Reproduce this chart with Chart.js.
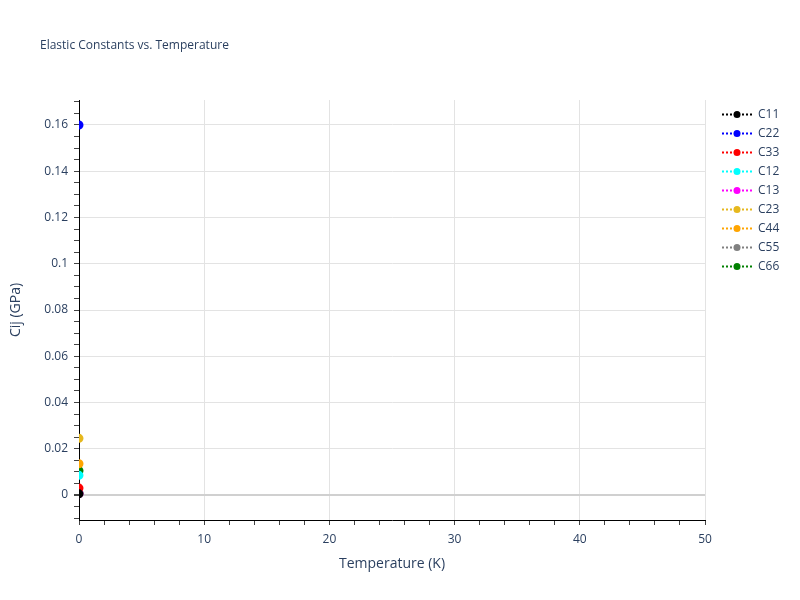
<!DOCTYPE html>
<html>
<head>
<meta charset="utf-8">
<script src="https://cdn.jsdelivr.net/npm/chart.js@4.4.1/dist/chart.umd.min.js"></script>
<style>
  html, body { margin: 0; padding: 0; background: #fff; }
  #wrap { width: 800px; height: 600px; }
</style>
</head>
<body>
<div id="wrap"><canvas id="c"></canvas></div>
<script>
// series names, colours and values (one point each, at T = 0 K)
var names = ['C11', 'C22', 'C33', 'C12', 'C13', 'C23', 'C44', 'C55', 'C66'];
var colors = ['black', 'blue', 'red', 'cyan', 'magenta', '#e6b81e', 'orange', 'grey', 'green'];
var temps = [0];
var c11 = [0.0005];
var c22 = [0.16];
var c33 = [0.003];
var c12 = [0.0085];
var c13 = [0.0006];
var c23 = [0.0245];
var c44 = [0.0135];
var c55 = [0.001];
var c66 = [0.0105];
var allValues = [c11, c22, c33, c12, c13, c23, c44, c55, c66];

var xTicks = [0, 10, 20, 30, 40, 50];
var yTicks = [0, 0.02, 0.04, 0.06, 0.08, 0.1, 0.12, 0.14, 0.16];

var FONT = '"Open Sans", "Liberation Sans", sans-serif';
var TXT = '#2a3f5f';

var datasets = [];
for (var i = 0; i < names.length; i++) {
  datasets.push({
    label: names[i],
    data: allValues[i].map(function (v, j) { return {x: temps[j], y: v}; }),
    borderColor: colors[i],
    backgroundColor: colors[i],
    borderDash: [2, 2],
    borderWidth: 2,
    pointRadius: 3.5,
    pointHoverRadius: 3.5,
    clip: 0
  });
}

function isMajorY(v) {
  return yTicks.some(function (t) { return Math.abs(t - v) < 1e-9; });
}
function isMajorX(v) {
  return xTicks.indexOf(v) >= 0;
}

// title + legend drawn in the plugin so they sit where the reference has them
var decor = {
  id: 'decor',
  afterDraw: function (chart) {
    var ctx = chart.ctx;
    ctx.save();
    ctx.fillStyle = TXT;
    ctx.font = '12px ' + FONT;
    ctx.textBaseline = 'middle';
    ctx.textAlign = 'left';
    ctx.fillText('Elastic Constants vs. Temperature', 40, 46);

    chart.data.datasets.forEach(function (ds, k) {
      var y = 114.5 + k * 19;
      ctx.strokeStyle = ds.borderColor;
      ctx.lineWidth = 2;
      ctx.setLineDash([2, 2]);
      ctx.beginPath();
      ctx.moveTo(722, y);
      ctx.lineTo(752, y);
      ctx.stroke();
      ctx.setLineDash([]);
      ctx.fillStyle = ds.backgroundColor;
      ctx.beginPath();
      ctx.arc(737, y, 3.5, 0, Math.PI * 2);
      ctx.fill();
      ctx.fillStyle = TXT;
      ctx.fillText(ds.label, 758, y);
    });
    ctx.restore();
  }
};

new Chart(document.getElementById('c'), {
  type: 'line',
  data: {datasets: datasets},
  plugins: [decor],
  options: {
    responsive: true,
    maintainAspectRatio: false,
    animation: false,
    layout: {padding: {top: 100, right: 95, left: 0, bottom: 28}},
    plugins: {
      legend: {display: false},
      tooltip: {enabled: false}
    },
    scales: {
      x: {
        type: 'linear',
        min: 0,
        max: 50,
        afterFit: function (s) { s.height = 52; },
        border: {color: '#000', width: 1},
        grid: {
          color: function (c) {
            var v = c.tick ? c.tick.value : 0;
            return (isMajorX(v) && v !== 0) ? '#e3e3e3' : 'rgba(0,0,0,0)';
          },
          tickColor: '#444',
          tickLength: 5,
          drawTicks: true
        },
        ticks: {
          stepSize: 2,
          autoSkip: false,
          maxRotation: 0,
          color: TXT,
          font: {family: FONT, size: 12},
          padding: 7,
          callback: function (v) { return isMajorX(v) ? String(v) : ''; }
        },
        title: {
          display: true,
          text: 'Temperature (K)',
          color: TXT,
          font: {family: FONT, size: 14},
          padding: {top: 12, bottom: 0}
        }
      },
      y: {
        type: 'linear',
        min: -0.0108,
        max: 0.1708,
        afterFit: function (s) { s.width = 79; },
        border: {color: '#000', width: 1},
        grid: {
          color: function (c) {
            var v = c.tick ? c.tick.value : 0;
            if (Math.abs(v) < 1e-9) return '#d0d0d0';
            return isMajorY(v) ? '#e3e3e3' : 'rgba(0,0,0,0)';
          },
          lineWidth: function (c) {
            var v = c.tick ? c.tick.value : 1;
            return Math.abs(v) < 1e-9 ? 2 : 1;
          },
          tickColor: '#444',
          tickLength: 5,
          drawTicks: true
        },
        ticks: {
          stepSize: 0.005,
          includeBounds: false,
          autoSkip: false,
          color: TXT,
          font: {family: FONT, size: 12},
          padding: 6,
          callback: function (v) {
            return isMajorY(v) ? String(Number(v.toFixed(2))) : '';
          }
        },
        title: {
          display: true,
          text: 'Cij (GPa)',
          color: TXT,
          font: {family: FONT, size: 14},
          padding: {top: 8, bottom: 0}
        }
      }
    }
  }
});
</script>
</body>
</html>
